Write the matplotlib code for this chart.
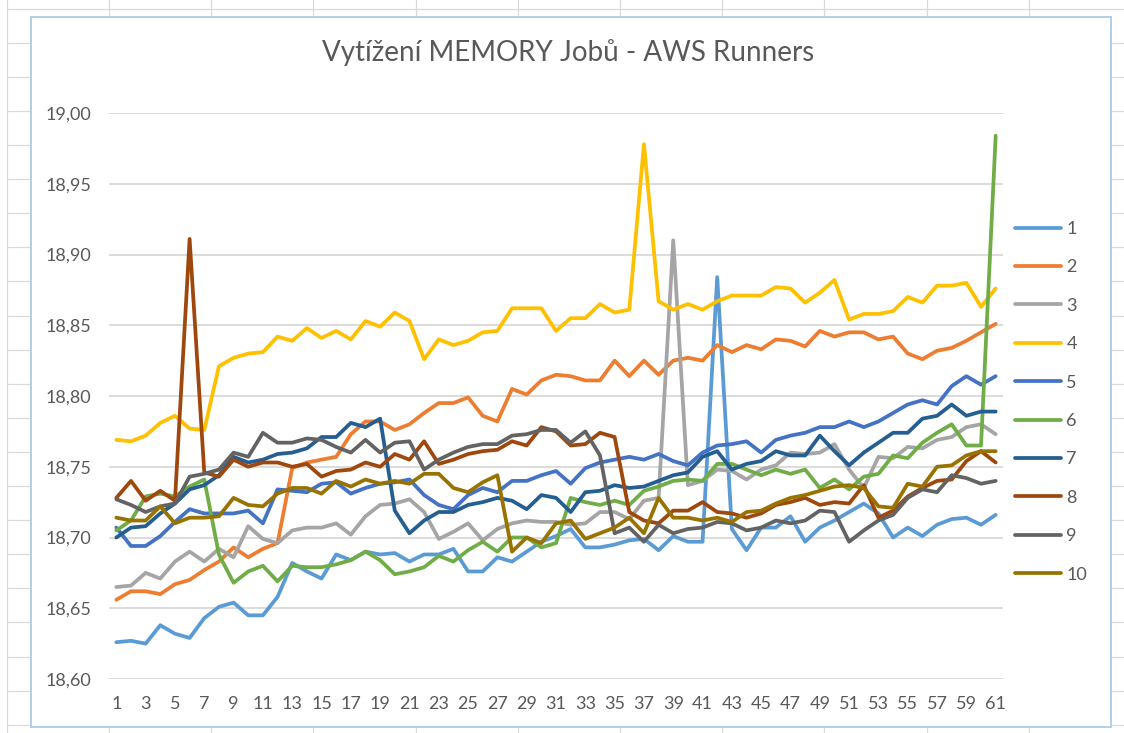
import matplotlib
matplotlib.use("Agg")
import matplotlib.pyplot as plt
from matplotlib.patches import Rectangle

plt.rcParams['font.family'] = ['Lato', 'DejaVu Sans']

title = "Vytížení MEMORY Jobů - AWS Runners"
x = list(range(1, 62))
series_names = ["1", "2", "3", "4", "5", "6", "7", "8", "9", "10"]
colors = ["#5B9BD5", "#ED7D31", "#A5A5A5", "#FFC000", "#4472C4",
          "#70AD47", "#255E91", "#9E480E", "#636363", "#997300"]

s1 = [18.626, 18.627, 18.625, 18.638, 18.632, 18.629, 18.643, 18.651, 18.654, 18.645,
      18.645, 18.658, 18.682, 18.676, 18.671, 18.688, 18.684, 18.690, 18.688, 18.689,
      18.683, 18.688, 18.688, 18.692, 18.676, 18.676, 18.686, 18.683, 18.690, 18.697,
      18.701, 18.706, 18.693, 18.693, 18.695, 18.698, 18.699, 18.691, 18.701, 18.697,
      18.697, 18.884, 18.706, 18.691, 18.707, 18.707, 18.715, 18.697, 18.707, 18.712,
      18.718, 18.724, 18.717, 18.700, 18.707, 18.701, 18.709, 18.713, 18.714, 18.709,
      18.716]
s2 = [18.656, 18.662, 18.662, 18.660, 18.667, 18.670, 18.677, 18.683, 18.693, 18.686,
      18.692, 18.696, 18.749, 18.753, 18.755, 18.757, 18.773, 18.782, 18.782, 18.776,
      18.780, 18.788, 18.795, 18.795, 18.799, 18.786, 18.782, 18.805, 18.801, 18.811,
      18.815, 18.814, 18.811, 18.811, 18.825, 18.814, 18.825, 18.815, 18.825, 18.827,
      18.825, 18.836, 18.831, 18.836, 18.833, 18.840, 18.839, 18.835, 18.846, 18.842,
      18.845, 18.845, 18.840, 18.842, 18.830, 18.826, 18.832, 18.834, 18.839, 18.845,
      18.851]
s3 = [18.665, 18.666, 18.675, 18.671, 18.683, 18.690, 18.683, 18.692, 18.686, 18.708,
      18.699, 18.696, 18.705, 18.707, 18.707, 18.710, 18.702, 18.715, 18.723, 18.724,
      18.727, 18.718, 18.699, 18.704, 18.710, 18.698, 18.706, 18.710, 18.712, 18.711,
      18.711, 18.709, 18.710, 18.718, 18.718, 18.713, 18.726, 18.728, 18.910, 18.737,
      18.740, 18.748, 18.747, 18.741, 18.748, 18.751, 18.760, 18.759, 18.760, 18.766,
      18.748, 18.735, 18.757, 18.756, 18.764, 18.763, 18.769, 18.771, 18.778, 18.780,
      18.773]
s4 = [18.769, 18.768, 18.772, 18.781, 18.786, 18.777, 18.776, 18.821, 18.827, 18.830,
      18.831, 18.842, 18.839, 18.848, 18.841, 18.846, 18.840, 18.853, 18.849, 18.859,
      18.853, 18.826, 18.840, 18.836, 18.839, 18.845, 18.846, 18.862, 18.862, 18.862,
      18.846, 18.855, 18.855, 18.865, 18.859, 18.861, 18.978, 18.867, 18.861, 18.865,
      18.861, 18.867, 18.871, 18.871, 18.871, 18.877, 18.876, 18.866, 18.873, 18.882,
      18.854, 18.858, 18.858, 18.860, 18.870, 18.866, 18.878, 18.878, 18.880, 18.863,
      18.876]
s5 = [18.707, 18.694, 18.694, 18.701, 18.711, 18.720, 18.717, 18.717, 18.717, 18.719,
      18.710, 18.734, 18.733, 18.732, 18.738, 18.739, 18.731, 18.735, 18.738, 18.739,
      18.741, 18.730, 18.723, 18.720, 18.730, 18.735, 18.732, 18.740, 18.740, 18.744,
      18.747, 18.738, 18.749, 18.753, 18.755, 18.757, 18.755, 18.759, 18.754, 18.751,
      18.760, 18.765, 18.766, 18.768, 18.760, 18.769, 18.772, 18.774, 18.778, 18.778,
      18.782, 18.778, 18.782, 18.788, 18.794, 18.797, 18.794, 18.807, 18.814, 18.808,
      18.814]
s6 = [18.705, 18.712, 18.729, 18.731, 18.729, 18.736, 18.741, 18.688, 18.668, 18.676,
      18.680, 18.669, 18.680, 18.679, 18.679, 18.681, 18.684, 18.690, 18.684, 18.674,
      18.676, 18.679, 18.687, 18.683, 18.691, 18.697, 18.690, 18.700, 18.700, 18.693,
      18.696, 18.728, 18.725, 18.723, 18.726, 18.723, 18.733, 18.736, 18.740, 18.741,
      18.740, 18.752, 18.752, 18.748, 18.744, 18.748, 18.745, 18.748, 18.735, 18.741,
      18.734, 18.743, 18.745, 18.758, 18.756, 18.767, 18.774, 18.780, 18.765, 18.765,
      18.984]
s7 = [18.700, 18.707, 18.708, 18.717, 18.724, 18.734, 18.737, 18.744, 18.757, 18.753,
      18.755, 18.759, 18.760, 18.763, 18.771, 18.771, 18.781, 18.778, 18.784, 18.719,
      18.703, 18.712, 18.718, 18.718, 18.723, 18.725, 18.728, 18.726, 18.720, 18.730,
      18.728, 18.718, 18.732, 18.733, 18.737, 18.735, 18.736, 18.740, 18.744, 18.746,
      18.757, 18.761, 18.748, 18.752, 18.754, 18.761, 18.758, 18.758, 18.772, 18.761,
      18.751, 18.760, 18.767, 18.774, 18.774, 18.784, 18.786, 18.794, 18.786, 18.789,
      18.789]
s8 = [18.728, 18.740, 18.726, 18.733, 18.726, 18.911, 18.746, 18.743, 18.755, 18.750,
      18.753, 18.753, 18.750, 18.752, 18.743, 18.747, 18.748, 18.753, 18.750, 18.759,
      18.755, 18.768, 18.752, 18.755, 18.759, 18.761, 18.762, 18.768, 18.765, 18.778,
      18.775, 18.765, 18.766, 18.774, 18.771, 18.718, 18.712, 18.710, 18.719, 18.719,
      18.725, 18.718, 18.717, 18.714, 18.717, 18.723, 18.725, 18.728, 18.723, 18.725,
      18.724, 18.737, 18.714, 18.719, 18.729, 18.735, 18.740, 18.741, 18.754, 18.761,
      18.753]
s9 = [18.727, 18.723, 18.718, 18.722, 18.724, 18.743, 18.745, 18.748, 18.760, 18.757,
      18.774, 18.767, 18.767, 18.770, 18.769, 18.764, 18.760, 18.769, 18.760, 18.767,
      18.768, 18.748, 18.755, 18.760, 18.764, 18.766, 18.766, 18.772, 18.773, 18.776,
      18.776, 18.767, 18.775, 18.758, 18.703, 18.707, 18.697, 18.709, 18.703, 18.706,
      18.707, 18.711, 18.710, 18.705, 18.707, 18.712, 18.710, 18.712, 18.719, 18.718,
      18.697, 18.705, 18.712, 18.716, 18.728, 18.734, 18.732, 18.744, 18.742, 18.738,
      18.740]
s10 = [18.714, 18.712, 18.712, 18.722, 18.710, 18.714, 18.714, 18.715, 18.728, 18.723,
       18.722, 18.731, 18.735, 18.735, 18.731, 18.740, 18.736, 18.741, 18.738, 18.740,
       18.738, 18.745, 18.745, 18.735, 18.732, 18.739, 18.744, 18.690, 18.700, 18.696,
       18.710, 18.712, 18.699, 18.703, 18.707, 18.714, 18.703, 18.728, 18.714, 18.714,
       18.712, 18.714, 18.711, 18.718, 18.719, 18.724, 18.728, 18.730, 18.733, 18.736,
       18.737, 18.735, 18.722, 18.721, 18.738, 18.736, 18.750, 18.751, 18.758, 18.761,
       18.761]
series = [s1, s2, s3, s4, s5, s6, s7, s8, s9, s10]

y_ticks = [18.60, 18.65, 18.70, 18.75, 18.80, 18.85, 18.90, 18.95, 19.00]
x_ticks = list(range(1, 62, 2))

W, H = 1124, 733
fig = plt.figure(figsize=(W / 100, H / 100), dpi=100)
fig.patch.set_facecolor("white")

# spreadsheet background grid + chart frame
bg = fig.add_axes([0, 0, 1, 1], zorder=-10)
bg.set_xlim(0, W)
bg.set_ylim(H, 0)
bg.axis("off")
for k in range(-1, 11):
    xv = 109 + 102.2 * k
    bg.plot([xv, xv], [0, H], color="#DADADA", lw=0.9)
for k in range(-1, 22):
    yv = 42.7 + 34.1 * k
    bg.plot([8, W], [yv, yv], color="#DADADA", lw=0.9)
bg.add_patch(Rectangle((31, 17), 1080, 710, facecolor="white",
                       edgecolor="#A9CCEB", lw=1.3, zorder=5))

L, R, T, B = 109, 1003, 113, 679
ax = fig.add_axes([L / W, 1 - B / H, (R - L) / W, (B - T) / H], zorder=1)
ax.patch.set_alpha(0)

for name, vals, col in zip(series_names, series, colors):
    ax.plot(x, vals, color=col, lw=2.7, label=name,
            solid_joinstyle="round", solid_capstyle="round")

ax.set_xlim(0.5, 61.5)
ax.set_ylim(18.60, 19.00)
ax.set_yticks(y_ticks)
ax.set_yticklabels([f"{v:.2f}".replace(".", ",") for v in y_ticks])
ax.set_xticks(x_ticks)
ax.set_xticklabels([str(v) for v in x_ticks])
ax.tick_params(axis="both", length=0, labelsize=13, labelcolor="#595959")
ax.tick_params(axis="y", pad=13)
ax.tick_params(axis="x", pad=12)
ax.grid(axis="y", color="#D9D9D9", lw=1.3)
ax.set_axisbelow(True)
for sp in ax.spines.values():
    sp.set_visible(False)

fig.text(568 / W, 1 - 53 / H, title, ha="center", va="center",
         fontsize=20, color="#595959")

leg = ax.legend(loc="upper left", bbox_to_anchor=(1015 / W, 1 - 221 / H),
                bbox_transform=fig.transFigure, frameon=False, fontsize=13,
                handlelength=2.55, handletextpad=0.3, labelspacing=1.24,
                borderpad=0, borderaxespad=0)
for t in leg.get_texts():
    t.set_color("#595959")

fig.savefig("out.png", dpi=100)
